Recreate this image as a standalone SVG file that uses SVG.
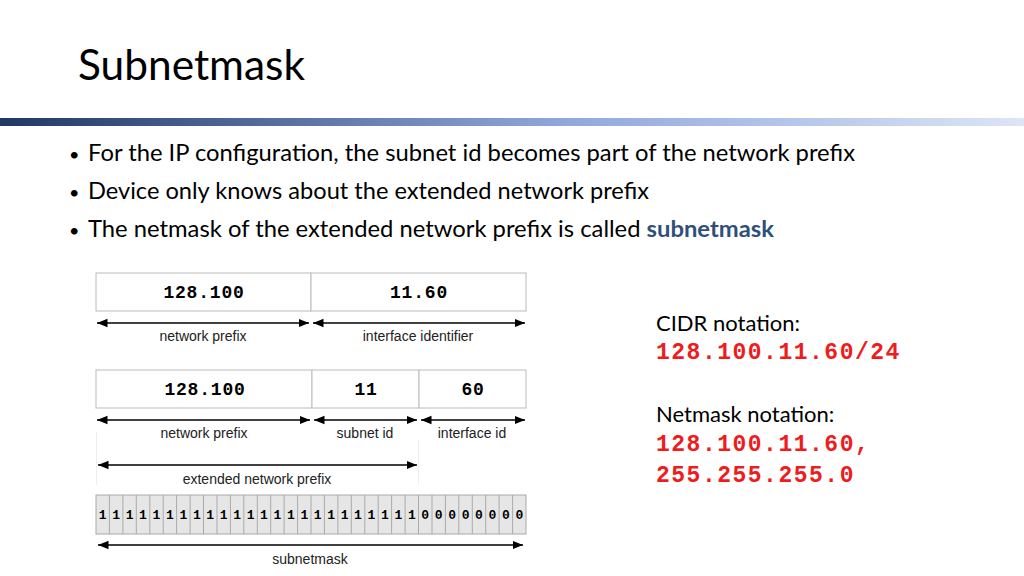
<svg xmlns="http://www.w3.org/2000/svg" width="1024" height="576" viewBox="0 0 1024 576">
<defs>
<linearGradient id="bar" x1="0" x2="1" y1="0" y2="0"><stop offset="0" stop-color="#1f3864"/><stop offset="0.55" stop-color="#8fa7dc"/><stop offset="1" stop-color="#dde5f6"/></linearGradient>
<marker id="a" viewBox="0 0 10 10" refX="10" refY="5" markerWidth="7" markerHeight="7" orient="auto-start-reverse"><path d="M0,1 L10,5 L0,9 z" fill="#000"/></marker>
</defs>
<style>
.t{font-family:Lato,"Open Sans",sans-serif;fill:#000}
.m{font-family:"Liberation Mono",monospace;font-weight:bold;font-size:18px;letter-spacing:0.8px;text-anchor:middle}
.s{font-family:"Liberation Sans",Arial,sans-serif;font-size:14px;text-anchor:middle;fill:#222}
.b{fill:#fff;stroke:#bbb;stroke-width:1}
.c{fill:#e6e6e6;stroke:#aaa;stroke-width:1}
.r{font-family:"Liberation Mono",monospace;font-weight:bold;font-size:23px;letter-spacing:1.5px;fill:#ee1c1c}
.ar{stroke:#000;stroke-width:1.5;marker-start:url(#a);marker-end:url(#a)}
.bit{font-family:"Liberation Mono",monospace;font-weight:bold;font-size:13px;text-anchor:middle}
</style>
<rect width="1024" height="576" fill="#fff"/>
<text class="t" x="78" y="80" font-size="42" textLength="227" lengthAdjust="spacingAndGlyphs">Subnetmask</text>
<rect x="0" y="118" width="1024" height="8" fill="url(#bar)"/>
<g class="t" font-size="23">
<text x="69" y="161" font-size="18">•</text><text x="88" y="161" textLength="767" lengthAdjust="spacingAndGlyphs">For the IP configuration, the subnet id becomes part of the network prefix</text>
<text x="69" y="199" font-size="18">•</text><text x="88" y="199" textLength="561" lengthAdjust="spacingAndGlyphs">Device only knows about the extended network prefix</text>
<text x="69" y="237" font-size="18">•</text><text x="88" y="237" textLength="686" lengthAdjust="spacingAndGlyphs">The netmask of the extended network prefix is called <tspan fill="#2e4f7c" font-weight="bold">subnetmask</tspan></text>
</g>
<line x1="96.5" y1="432" x2="96.5" y2="485" stroke="#eee"/>
<line x1="418.5" y1="440" x2="418.5" y2="485" stroke="#eee"/>
<g id="row1">
<rect class="b" x="96" y="273" width="215" height="38"/><rect class="b" x="311" y="273" width="215" height="38"/>
<text class="m" x="204" y="298">128.100</text><text class="m" x="419" y="298">11.60</text>
</g>
<g id="row2">
<rect class="b" x="96" y="370" width="216" height="38"/><rect class="b" x="312" y="370" width="107" height="38"/><rect class="b" x="419" y="370" width="107" height="38"/>
<text class="m" x="205" y="395">128.100</text><text class="m" x="366" y="395">11</text><text class="m" x="473" y="395">60</text>
</g>
<g id="bits">
<rect class="c" x="96" y="495" width="430" height="39"/>
<g stroke="#aaa">
<path d="M109.4,495V534M122.9,495V534M136.3,495V534M149.8,495V534M163.2,495V534M176.6,495V534M190.1,495V534M203.5,495V534M217,495V534M230.4,495V534M243.8,495V534M257.3,495V534M270.7,495V534M284.1,495V534M297.6,495V534M311,495V534M324.4,495V534M337.9,495V534M351.3,495V534M364.8,495V534M378.2,495V534M391.6,495V534M405.1,495V534M418.5,495V534M432,495V534M445.4,495V534M458.8,495V534M472.3,495V534M485.7,495V534M499.1,495V534M512.6,495V534"/>
</g>
<text class="bit" y="519"><tspan x="102.7">1</tspan><tspan x="116.2">1</tspan><tspan x="129.6">1</tspan><tspan x="143">1</tspan><tspan x="156.5">1</tspan><tspan x="169.9">1</tspan><tspan x="183.4">1</tspan><tspan x="196.8">1</tspan><tspan x="210.2">1</tspan><tspan x="223.7">1</tspan><tspan x="237.1">1</tspan><tspan x="250.6">1</tspan><tspan x="264">1</tspan><tspan x="277.4">1</tspan><tspan x="290.9">1</tspan><tspan x="304.3">1</tspan><tspan x="317.7">1</tspan><tspan x="331.2">1</tspan><tspan x="344.6">1</tspan><tspan x="358">1</tspan><tspan x="371.5">1</tspan><tspan x="384.9">1</tspan><tspan x="398.4">1</tspan><tspan x="411.8">1</tspan><tspan x="425.2">0</tspan><tspan x="438.7">0</tspan><tspan x="452.1">0</tspan><tspan x="465.6">0</tspan><tspan x="479">0</tspan><tspan x="492.4">0</tspan><tspan x="505.9">0</tspan><tspan x="519.3">0</tspan></text>
</g>
<g id="connectors">
<line class="ar" x1="97" y1="323" x2="309" y2="323"/>
<line class="ar" x1="313" y1="323" x2="525" y2="323"/>
<line class="ar" x1="97" y1="420" x2="310" y2="420"/>
<line class="ar" x1="314" y1="420" x2="417" y2="420"/>
<line class="ar" x1="421" y1="420" x2="525" y2="420"/>
<line class="ar" x1="98" y1="465" x2="417" y2="465"/>
<line class="ar" x1="98" y1="545" x2="523" y2="545"/>
</g>
<g id="labels">
<text class="s" x="203" y="341">network prefix</text>
<text class="s" x="418" y="341">interface identifier</text>
<text class="s" x="204" y="438">network prefix</text>
<text class="s" x="365" y="438">subnet id</text>
<text class="s" x="472" y="438">interface id</text>
<text class="s" x="257" y="484">extended network prefix</text>
<text class="s" x="310" y="564">subnetmask</text>
</g>
<g id="notes">
<text class="t" x="656" y="331" font-size="22">CIDR notation:</text>
<text class="r" x="656" y="359">128.100.11.60/24</text>
<text class="t" x="656" y="422" font-size="22">Netmask notation:</text>
<text class="r" x="656" y="451">128.100.11.60,</text>
<text class="r" x="656" y="482">255.255.255.0</text>
</g>
</svg>
